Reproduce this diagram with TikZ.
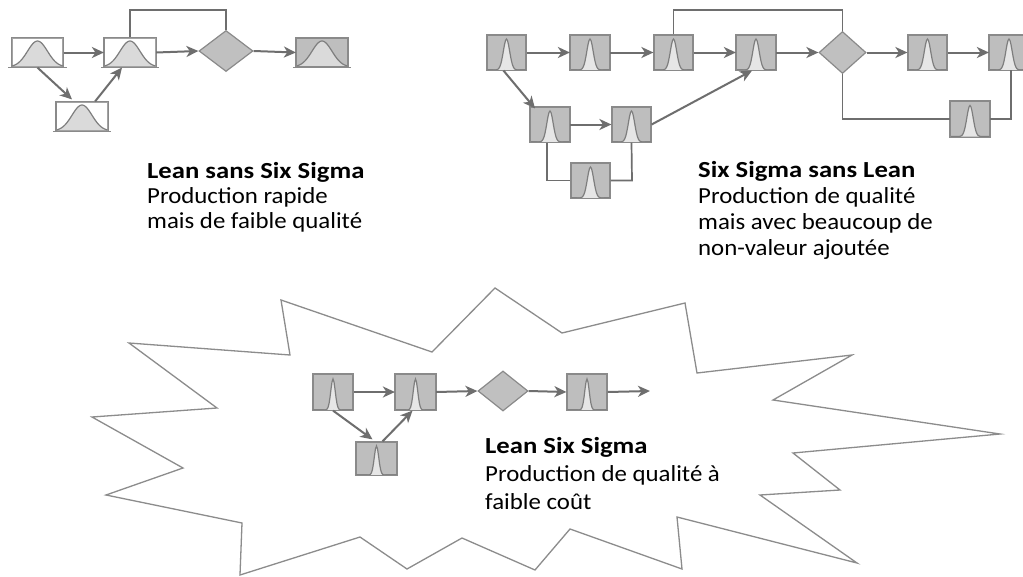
\documentclass[tikz,border=0pt]{standalone}
\usepackage{fontspec}
\setmainfont{Carlito}
\newfontfamily\regf[FakeStretch=1.08]{Carlito}
\newfontfamily\titf[FakeStretch=1.16]{Carlito}
\usetikzlibrary{arrows.meta,shapes.geometric}
\definecolor{arrc}{HTML}{6E6E6E}
\definecolor{lbord}{HTML}{A3A3A3}
\definecolor{lbell}{HTML}{DADADA}
\definecolor{sbord}{HTML}{8A8A8A}
\definecolor{sfill}{HTML}{BEBEBE}
\definecolor{sbell}{HTML}{E6E6E6}
\definecolor{curvec}{HTML}{7E7E7E}
\definecolor{dfill}{HTML}{C0C0C0}
\definecolor{burstc}{HTML}{8C8C8C}
\newcommand\bellshape[6]{%
  \begin{scope}[shift={(#1.center)}]
    \fill[#6] plot[domain=-#2:#2, samples=41] (\x,{#3-#4*exp(-(\x*\x)/#5)}) -- cycle;
    \draw[curvec, line width=1.2pt] plot[domain=-#2:#2, samples=41] (\x,{#3-#4*exp(-(\x*\x)/#5)});
  \end{scope}
  \draw[boxline] (#1.south west) rectangle (#1.north east);
}
\newcommand\leanbox[3]{%
  \node[lbox] (#1) at (#2,#3) {};
  \bellshape{#1}{25.5}{14.5}{26}{200}{lbell}
  \draw[boxline] ([xshift=-3pt]#1.south west) -- ([xshift=3pt]#1.south east);
}
\newcommand\sigbox[3]{%
  \node[sbox] (#1) at (#2,#3) {};
  \bellshape{#1}{19.5}{17.5}{31}{20}{sbell}
}
\newcommand\lssbox[3]{%
  \node[bbox] (#1) at (#2,#3) {};
  \bellshape{#1}{20}{18}{31}{10}{sbell}
}
\begin{document}
\begin{tikzpicture}[x=1pt,y=-1pt,
  boxline/.style={draw=sbord, line width=1.2pt},
  lbox/.style={draw=lbord, fill=white, minimum width=51pt, minimum height=29pt, inner sep=0pt, line width=1.2pt},
  dbox/.style={lbox, fill=sfill, draw=sbord},
  sbox/.style={draw=sbord, fill=sfill, minimum width=39pt, minimum height=35pt, inner sep=0pt, line width=1.2pt},
  bbox/.style={sbox, minimum width=40pt, minimum height=36pt},
  dia/.style={diamond, draw=sbord, fill=dfill, inner sep=0pt, line width=1.2pt},
  arr/.style={draw=arrc, line width=2pt, -{Stealth[length=12pt,width=11pt,inset=3.5pt]}},
  link/.style={draw=arrc, line width=1.7pt},
  burst/.style={draw=burstc, line width=1.3pt, line join=miter},
  ttl/.style={anchor=base west, inner sep=0pt, text=black, font=\titf\bfseries\fontsize{23}{26}\selectfont},
  txt/.style={anchor=base west, inner sep=0pt, text=black, font=\regf\fontsize{23}{26}\selectfont}]
\useasboundingbox (0,0) rectangle (1023,576);
\fill[white] (0,0) rectangle (1023,576);

% ---------- Lean sans Six Sigma ----------
\leanbox{A}{37.5}{52.5}
\leanbox{B}{130}{52.5}
\leanbox{C}{82}{116.5}
\node[dbox] (D) at (322,52.5) {};
\bellshape{D}{25.5}{14.5}{26}{200}{lbell}
\draw[boxline] ([xshift=-3pt]D.south west) -- ([xshift=3pt]D.south east);
\node[dia, minimum width=54pt, minimum height=41pt] (dl) at (226,51) {};
\draw[arr] (A.east) -- (B.west);
\draw[arr] (B.east) -- (dl.west);
\draw[arr] (dl.east) -- (D.west);
\draw[arr] (A.south) -- ([xshift=-10pt,yshift=2pt]C.north);
\draw[arr] ([xshift=-13pt]C.north east) -- ([xshift=-8pt]B.south);
\draw[link] (B.north) -- (130,10) -- (226,10) -- (dl.north);

% ---------- Six Sigma sans Lean ----------
\sigbox{R1}{506.5}{52.5}
\sigbox{R2}{590}{52.5}
\sigbox{R3}{673.5}{52.5}
\sigbox{R4}{756}{52.5}
\sigbox{R6}{927.5}{52.5}
\sigbox{R7}{1009}{52.5}
\sigbox{L1}{550}{124.5}
\sigbox{L2}{631.5}{124.5}
\sigbox{L3}{590.5}{180.5}
\sigbox{RB}{970}{119}
\node[dia, minimum width=47pt, minimum height=42pt] (dr) at (842.5,52.5) {};
\draw[arr] (R1.east) -- (R2.west);
\draw[arr] (R2.east) -- (R3.west);
\draw[arr] (R3.east) -- (R4.west);
\draw[arr] (R4.east) -- (dr.west);
\draw[arr] (dr.east) -- (R6.west);
\draw[arr] (R6.east) -- (R7.west);
\draw[arr] ([xshift=-3pt]R1.south) -- ([xshift=-15pt,yshift=-2pt]L1.north);
\draw[arr] (L1.east) -- (L2.west);
\draw[arr] (L2.east) -- ([xshift=-4pt]R4.south);
\draw[link] (R3.north) -- (673.5,10) -- (842.5,10) -- (dr.north);
\draw[link] (dr.south) -- (842.5,119) -- (RB.west);
\draw[link] (RB.east) -- (1011,119) -- (1011,70);
\draw[link] ([xshift=-3pt]L1.south) -- (547,180.5) -- (L3.west);
\draw[link] (L3.east) -- (632,180.5) -- (L2.south);

% ---------- Starburst ----------
\draw[burst] (281,300) -- (432,352) -- (495,288) -- (562,333) -- (685,303)
  -- (697,373) -- (852,355) -- (773,400) -- (1000,434) -- (793,453)
  -- (840,490) -- (760,495) -- (857,563) -- (677,517) -- (682,569)
  -- (570,529) -- (535,570) -- (462,538) -- (407,569) -- (360,537)
  -- (240,575) -- (242,523) -- (106,495) -- (183,468) -- (92,417)
  -- (217,408) -- (129,343) -- (290,355) -- cycle;

% ---------- Lean Six Sigma ----------
\lssbox{B1}{333}{392}
\lssbox{B2}{415.5}{392}
\lssbox{B4}{587}{392}
\node[bbox, minimum width=41pt, minimum height=33pt] (B3) at (376.5,458.5) {};
\bellshape{B3}{20.5}{16.5}{29}{10}{sbell}
\node[dia, minimum width=50pt, minimum height=40pt] (db) at (503,391) {};
\coordinate (bend) at (650,391);
\draw[arr] (B1.east) -- (B2.west);
\draw[arr] (B2.east) -- (db.west);
\draw[arr] (db.east) -- (B4.west);
\draw[arr] (B4.east) -- (bend);
\draw[arr] (B1.south) -- ([xshift=-4pt,yshift=2pt]B3.north);
\draw[arr] ([xshift=6pt]B3.north) -- ([xshift=-3pt]B2.south);

% ---------- Texts ----------
\node[ttl] (t1) at (147,178) {Lean sans Six Sigma};
\node[txt] (t1b) at (147,203) {Production rapide};
\node[txt] (t1c) at (147,228) {mais de faible qualité};
\node[ttl] (t2) at (698,177) {Six Sigma sans Lean};
\node[txt] (t2b) at (698,203) {Production de qualité};
\node[txt] (t2c) at (698,229) {mais avec beaucoup de};
\node[txt] (t2d) at (698,255) {non-valeur ajoutée};
\node[ttl] (t3) at (485,453) {Lean Six Sigma};
\node[txt] (t3b) at (485,481) {Production de qualité à};
\node[txt] (t3c) at (485,509) {faible coût};
\end{tikzpicture}
\end{document}
